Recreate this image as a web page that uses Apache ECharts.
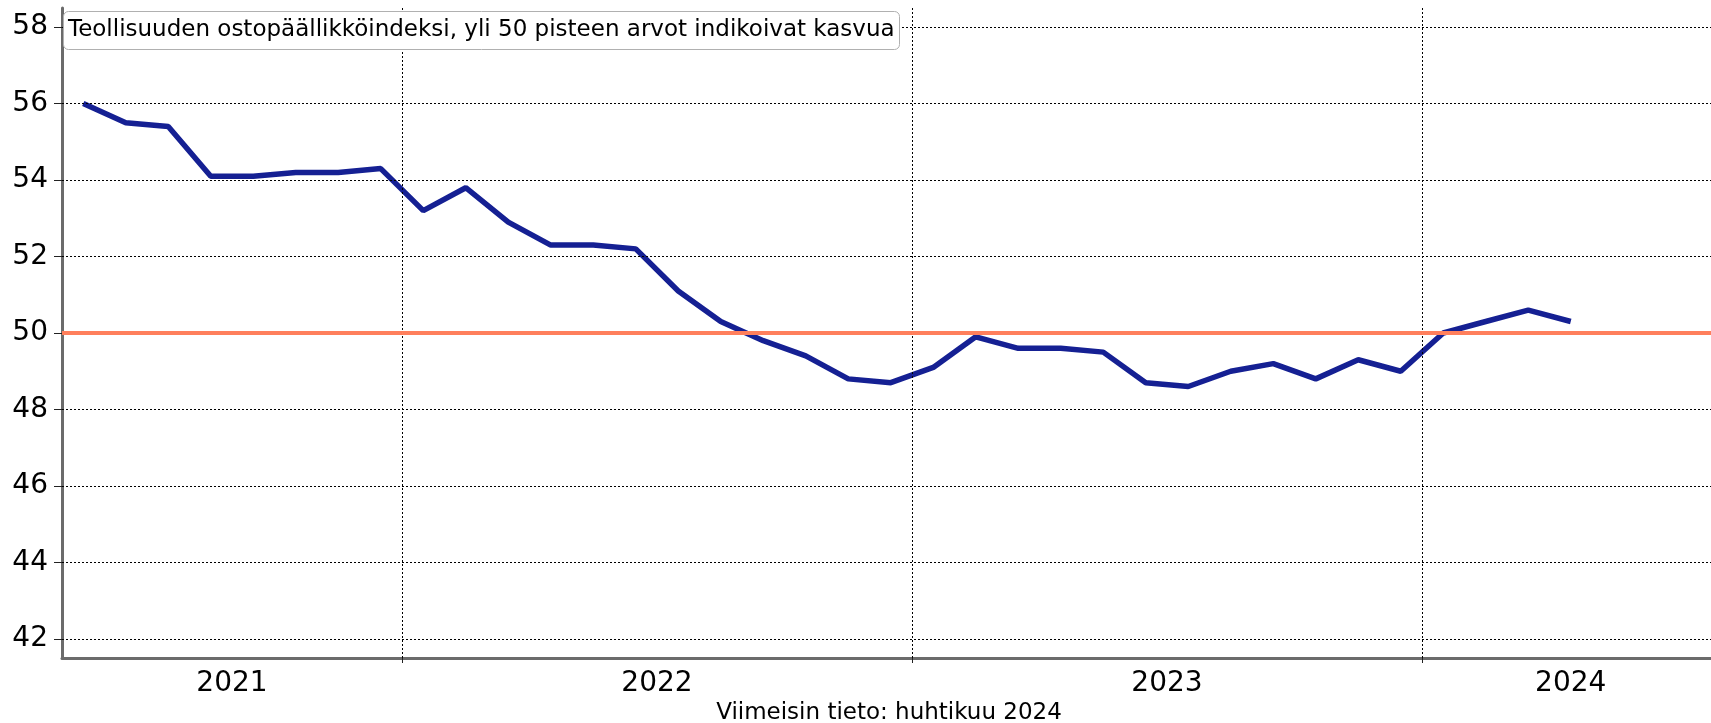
<!DOCTYPE html>
<html>
<head>
<meta charset="utf-8">
<script src="https://cdn.jsdelivr.net/npm/echarts@6/dist/echarts.min.js"></script>
<style>
  html, body { margin: 0; padding: 0; background: #fff; }
  #main { width: 1711px; height: 723px; }
</style>
</head>
<body>
<div id="main"></div>
<script>
// kuukaudet 2021-05 ... 2024-04
var months = [
  '2021-05', '2021-06', '2021-07', '2021-08', '2021-09', '2021-10', '2021-11', '2021-12',
  '2022-01', '2022-02', '2022-03', '2022-04', '2022-05', '2022-06', '2022-07', '2022-08',
  '2022-09', '2022-10', '2022-11', '2022-12',
  '2023-01', '2023-02', '2023-03', '2023-04', '2023-05', '2023-06', '2023-07', '2023-08',
  '2023-09', '2023-10', '2023-11', '2023-12',
  '2024-01', '2024-02', '2024-03', '2024-04'
];
var pmi = [
  56.0, 55.5, 55.4, 54.1, 54.1, 54.2, 54.2, 54.3,
  53.2, 53.8, 52.9, 52.3, 52.3, 52.2, 51.1, 50.3,
  49.8, 49.4, 48.8, 48.7,
  49.1, 49.9, 49.6, 49.6, 49.5, 48.7, 48.6, 49.0,
  49.2, 48.8, 49.3, 49.0,
  50.0, 50.3, 50.6, 50.3
];
var yearLabels = ['2021', '2022', '2023', '2024'];
var yearLabelPos = [3.5, 13.5, 25.5, 35];   // vuoden keskikohta (kk-indeksi)
var yearBreaks = [7.5, 19.5, 31.5];         // vuodenvaihteet
var yTicks = [42, 44, 46, 48, 50, 52, 54, 56, 58];
var threshold = 50;

var FONT = 'DejaVu Sans';

var chart = echarts.init(document.getElementById('main'), null, { renderer: 'canvas' });

var seriesData = pmi.map(function (v, i) { return [i, v]; });

var gridLines = [];
yTicks.forEach(function (t) {
  gridLines.push({ yAxis: t });
});
yearBreaks.forEach(function (b) {
  gridLines.push({ xAxis: b });
});

var option = {
  animation: false,
  backgroundColor: '#fff',
  title: {
    text: 'Teollisuuden ostopäällikköindeksi, yli 50 pisteen arvot indikoivat kasvua',
    left: 63,
    top: 11,
    padding: [6, 5],
    backgroundColor: '#fff',
    borderColor: '#b0b0b0',
    borderWidth: 1,
    borderRadius: 5,
    textStyle: {
      fontFamily: FONT,
      fontSize: 23,
      fontWeight: 'normal',
      color: '#000',
      lineHeight: 27
    }
  },
  graphic: [{
    type: 'text',
    x: 889,
    y: 713,
    style: {
      text: 'Viimeisin tieto: huhtikuu 2024',
      fontFamily: FONT,
      fontSize: 23,
      fill: '#000',
      align: 'center',
      verticalAlign: 'middle'
    }
  }],
  grid: {
    left: 62,
    right: 0,
    top: 8,
    bottom: 65,
    containLabel: false
  },
  xAxis: {
    type: 'value',
    min: -0.5,
    max: 38.3,
    axisLine: { onZero: false, lineStyle: { color: '#6b6b6b', width: 3 } },
    axisTick: {
      show: true,
      customValues: yearBreaks,
      length: 5,
      lineStyle: { color: '#222', width: 1 }
    },
    axisLabel: {
      customValues: yearLabelPos,
      formatter: function (v) {
        var k = yearLabelPos.indexOf(v);
        return k >= 0 ? yearLabels[k] : '';
      },
      fontFamily: FONT,
      fontSize: 28,
      color: '#000',
      margin: 12
    },
    splitLine: { show: false }
  },
  yAxis: {
    type: 'value',
    min: 41.5,
    max: 58.5,
    axisLine: { show: true, onZero: false, lineStyle: { color: '#6b6b6b', width: 3 } },
    axisTick: {
      show: true,
      customValues: yTicks,
      length: 8,
      lineStyle: { color: '#222', width: 1 }
    },
    axisLabel: {
      customValues: yTicks,
      fontFamily: FONT,
      fontSize: 28,
      color: '#000',
      margin: 14
    },
    splitLine: { show: false }
  },
  series: [
    {
      // apuviivat
      type: 'line',
      data: seriesData,
      symbol: 'none',
      silent: true,
      z: 1,
      lineStyle: { opacity: 0 },
      markLine: {
        silent: true,
        symbol: 'none',
        label: { show: false },
        lineStyle: { color: '#000', width: 1, type: [2, 2] },
        data: gridLines
      }
    },
    {
      // 50 pisteen raja
      type: 'line',
      data: seriesData,
      symbol: 'none',
      silent: true,
      z: 2,
      lineStyle: { opacity: 0 },
      markLine: {
        silent: true,
        symbol: 'none',
        label: { show: false },
        lineStyle: { color: '#ff7f5c', width: 4, type: 'solid' },
        data: [{ yAxis: threshold }]
      }
    },
    {
      name: 'PMI',
      type: 'line',
      data: seriesData,
      symbol: 'none',
      z: 3,
      lineStyle: { color: '#152093', width: 5.5 }
    }
  ]
};

chart.setOption(option);
</script>
</body>
</html>
